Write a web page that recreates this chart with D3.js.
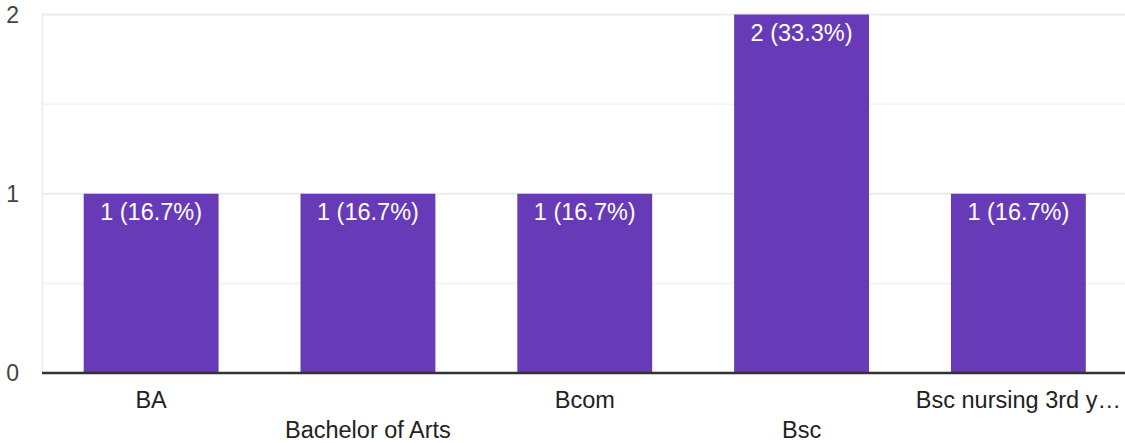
<!DOCTYPE html>
<html><head><meta charset="utf-8">
<script src="https://cdn.jsdelivr.net/npm/d3@7"></script>
<style>body{margin:0;background:#fff}svg{display:block}text{font-family:"Liberation Sans",Arial,sans-serif}</style>
</head><body>
<svg id="c" width="1125" height="443"></svg>
<script>
const categories = ["BA","Bachelor of Arts","Bcom","Bsc","Bsc nursing 3rd y\u2026"];
const counts = [1,1,1,2,1];
const labels = ["1 (16.7%)","1 (16.7%)","1 (16.7%)","2 (33.3%)","1 (16.7%)"];
const yTicks = [0,1,2];
const yMinor = [0.5,1.5];

const svg = d3.select("#c");
const L = 42, R = 1125, T = 14.5, B = 373;
const x = d3.scaleBand().domain(categories).range([42.5,1127]).paddingInner(0.378).paddingOuter(0.19);
const y = d3.scaleLinear().domain([0,2]).range([B,T]);

svg.selectAll(".mg").data(yMinor).enter().append("line")
  .attr("x1",L).attr("x2",R).attr("y1",d=>y(d)).attr("y2",d=>y(d))
  .attr("stroke","#f4f4f4").attr("stroke-width",2);
svg.selectAll(".g").data(yTicks.filter(d=>d>0)).enter().append("line")
  .attr("x1",L).attr("x2",R).attr("y1",d=>y(d)).attr("y2",d=>y(d))
  .attr("stroke","#ebebeb").attr("stroke-width",2);
svg.append("line").attr("x1",L+0.5).attr("x2",L+0.5).attr("y1",T-1).attr("y2",B)
  .attr("stroke","#ebebeb").attr("stroke-width",1.5);

svg.selectAll(".bar").data(categories).enter().append("rect")
  .attr("x",d=>x(d)).attr("width",x.bandwidth())
  .attr("y",(d,i)=>y(counts[i])).attr("height",(d,i)=>B-y(counts[i]))
  .attr("fill","#673ab7");

svg.selectAll(".bl").data(categories).enter().append("text")
  .attr("x",d=>x(d)+x.bandwidth()/2).attr("y",(d,i)=>y(counts[i])+26)
  .attr("text-anchor","middle").attr("fill","#fff").attr("font-size",23.5)
  .text((d,i)=>labels[i]);

svg.append("line").attr("x1",L).attr("x2",R).attr("y1",B).attr("y2",B)
  .attr("stroke","#333").attr("stroke-width",2.5);

svg.selectAll(".yt").data(yTicks).enter().append("text")
  .attr("x",19).attr("y",d=>y(d)+8).attr("text-anchor","end")
  .attr("fill","#444").attr("font-size",23).text(d=>d);

svg.selectAll(".xl").data(categories).enter().append("text")
  .attr("x",d=>x(d)+x.bandwidth()/2).attr("y",(d,i)=>i%2===0?408:438)
  .attr("text-anchor","middle").attr("fill","#222").attr("font-size",23.5)
  .text(d=>d);
</script>
</body></html>
